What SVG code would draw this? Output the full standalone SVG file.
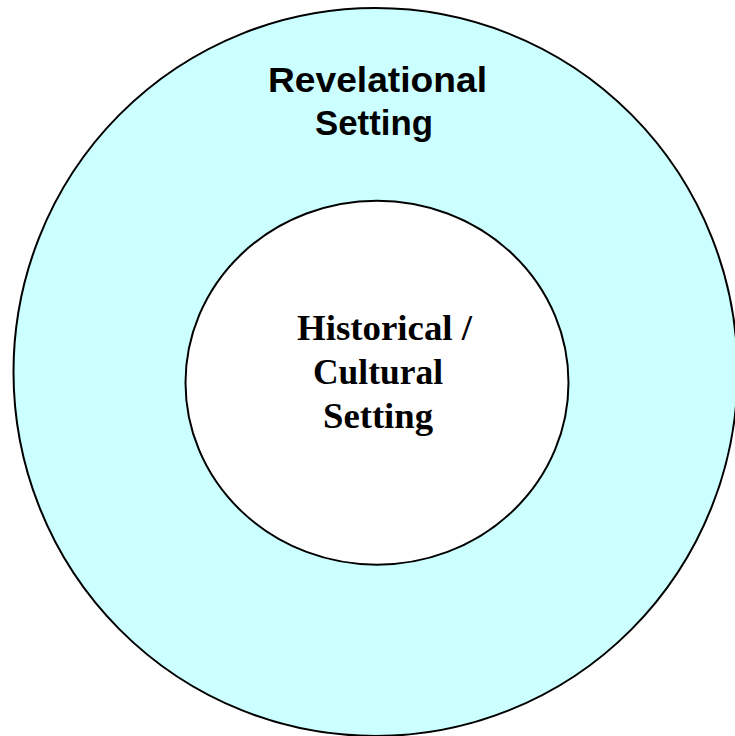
<svg xmlns="http://www.w3.org/2000/svg" width="735" height="736" viewBox="0 0 735 736">
<style>
.ring{stroke:#000;stroke-width:2}
.outer{fill:#ccffff}
.inner{fill:#fff}
.sans{font-family:"Liberation Sans",Arial,sans-serif;font-weight:bold;font-size:35px;fill:#000}
.serif{font-family:"Liberation Serif","Times New Roman",serif;font-weight:bold;font-size:35px;fill:#000}
</style>
<rect width="735" height="736" fill="#fff"/>
<g id="revelational">
<ellipse class="ring outer" cx="375.5" cy="372" rx="362" ry="364"/>
<text class="sans" x="377.5" y="92" text-anchor="middle" textLength="219" lengthAdjust="spacingAndGlyphs">Revelational</text>
<text class="sans" x="374" y="135" text-anchor="middle" textLength="118" lengthAdjust="spacingAndGlyphs">Setting</text>
</g>
<g id="historical">
<ellipse class="ring inner" cx="377" cy="382.7" rx="191.5" ry="182"/>
<text class="serif" x="384.5" y="340" text-anchor="middle" textLength="175" lengthAdjust="spacingAndGlyphs">Historical /</text>
<text class="serif" x="378" y="384" text-anchor="middle" textLength="130" lengthAdjust="spacingAndGlyphs">Cultural</text>
<text class="serif" x="378" y="428" text-anchor="middle" textLength="110" lengthAdjust="spacingAndGlyphs">Setting</text>
</g>
<g id="connectors"/>
</svg>
